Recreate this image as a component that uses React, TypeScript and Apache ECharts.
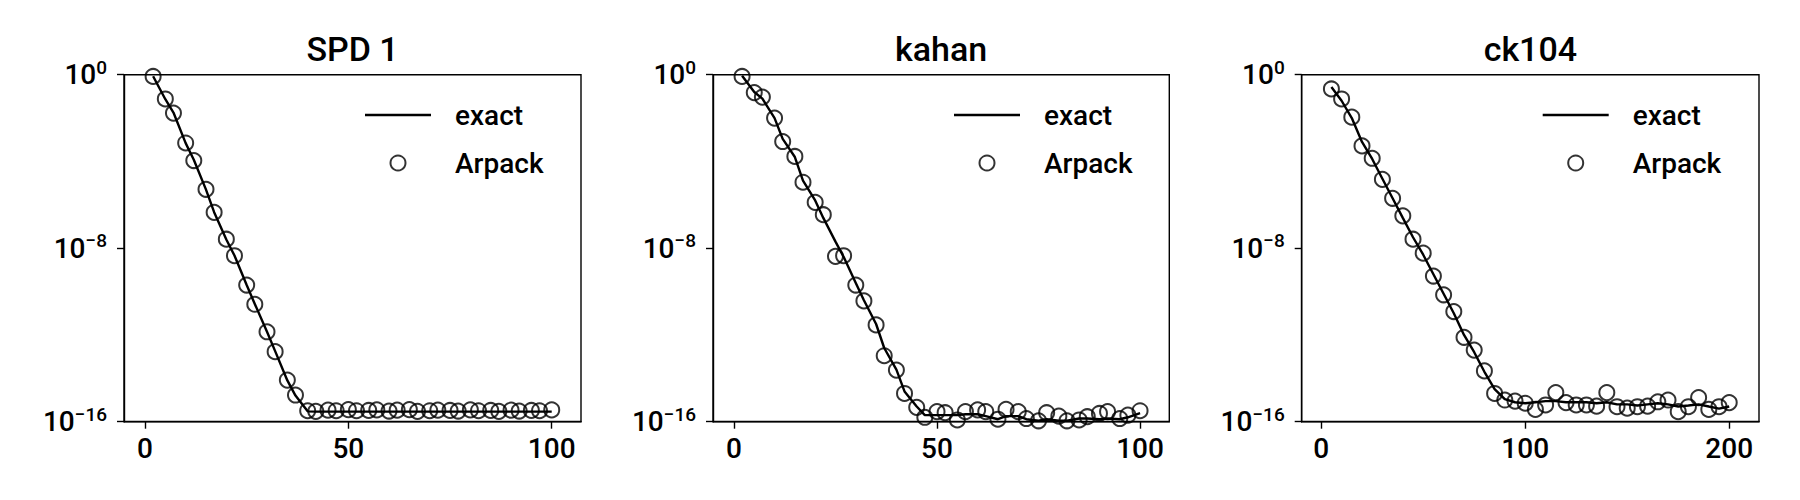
import React, { useEffect, useRef } from "react";
import * as echarts from "echarts";

// ---------- data ----------
const titles = ["SPD 1", "kahan", "ck104"];

const spdX = [2, 5, 7, 10, 12, 15, 17, 20, 22, 25, 27, 30, 32, 35, 37, 40, 42, 45, 47, 50, 52, 55, 57, 60, 62, 65, 67, 70, 72, 75, 77, 80, 82, 85, 87, 90, 92, 95, 97, 100];
const spdArpack = [8.3e-1, 7.6e-2, 1.7e-2, 7.1e-4, 1.1e-4, 5.2e-6, 4.5e-7, 2.6e-8, 4.5e-9, 2.0e-10, 2.6e-11, 1.4e-12, 1.7e-13, 8.3e-15, 1.7e-15, 3.2e-16,
  3.0e-16, 3.4e-16, 3.2e-16, 3.6e-16, 3.2e-16, 3.3e-16, 3.5e-16, 3.1e-16, 3.4e-16, 3.6e-16, 3.0e-16, 3.2e-16, 3.4e-16, 3.3e-16, 3.1e-16, 3.5e-16, 3.2e-16, 3.3e-16, 3.0e-16, 3.4e-16, 3.1e-16, 3.3e-16, 3.2e-16, 3.5e-16];
const spdExact = [8.5e-1, 7.4e-2, 1.8e-2, 7.0e-4, 1.2e-4, 5.0e-6, 4.6e-7, 2.5e-8, 4.6e-9, 2.0e-10, 2.7e-11, 1.4e-12, 1.8e-13, 8.0e-15, 1.6e-15, 3.0e-16,
  2.9e-16, 2.9e-16, 2.9e-16, 2.9e-16, 2.9e-16, 2.9e-16, 2.9e-16, 2.9e-16, 2.9e-16, 2.9e-16, 2.9e-16, 2.9e-16, 2.9e-16, 2.9e-16, 2.9e-16, 2.9e-16, 2.9e-16, 2.9e-16, 2.9e-16, 2.9e-16, 2.9e-16, 2.9e-16, 2.9e-16, 2.9e-16];

const kahanX = [2, 5, 7, 10, 12, 15, 17, 20, 22, 25, 27, 30, 32, 35, 37, 40, 42, 45, 47, 50, 52, 55, 57, 60, 62, 65, 67, 70, 72, 75, 77, 80, 82, 85, 87, 90, 92, 95, 97, 100];
const kahanArpack = [8.3e-1, 1.5e-1, 9.3e-2, 1.0e-2, 8.3e-4, 1.7e-4, 1.1e-5, 1.3e-6, 3.5e-7, 4.2e-9, 4.5e-9, 2.0e-10, 3.7e-11, 2.9e-12, 1.1e-13, 2.4e-14, 2.0e-15, 4.6e-16,
  1.6e-16, 2.9e-16, 2.6e-16, 1.2e-16, 2.9e-16, 3.5e-16, 2.9e-16, 1.3e-16, 3.7e-16, 2.9e-16, 1.4e-16, 1.1e-16, 2.6e-16, 1.8e-16, 1.1e-16, 1.2e-16, 1.7e-16, 2.4e-16, 2.9e-16, 1.4e-16, 2.0e-16, 3.2e-16];
const kahanExact = [8.9e-1, 1.6e-1, 7.9e-2, 1.0e-2, 1.1e-3, 1.6e-4, 1.3e-5, 1.6e-6, 2.5e-7, 2.0e-8, 4.0e-9, 2.5e-10, 4.0e-11, 3.2e-12, 2.5e-13, 2.5e-14, 2.5e-15, 5.0e-16,
  2.0e-16, 2.0e-16, 2.0e-16, 2.0e-16, 2.2e-16, 2.2e-16, 1.8e-16, 1.3e-16, 1.8e-16, 1.8e-16, 1.3e-16, 1.1e-16, 1.3e-16, 1.1e-16, 1.1e-16, 1.4e-16, 1.4e-16, 1.3e-16, 1.4e-16, 1.3e-16, 1.6e-16, 2.5e-16];

const ckX = [5, 10, 15, 20, 25, 30, 35, 40, 45, 50, 55, 60, 65, 70, 75, 80, 85, 90, 95, 100, 105, 110, 115, 120, 125, 130, 135, 140, 145, 150, 155, 160, 165, 170, 175, 180, 185, 190, 195, 200];
const ckArpack = [2.2e-1, 7.6e-2, 1.1e-2, 5.2e-4, 1.4e-4, 1.5e-5, 2.0e-6, 3.1e-7, 2.6e-8, 5.9e-9, 5.2e-10, 7.1e-11, 1.2e-11, 7.8e-13, 2.0e-13, 2.2e-14, 2.0e-15, 1.0e-15, 8.9e-16, 7.1e-16,
  3.7e-16, 5.9e-16, 2.2e-15, 7.6e-16, 5.9e-16, 5.9e-16, 5.2e-16, 2.2e-15, 4.9e-16, 4.2e-16, 4.9e-16, 5.2e-16, 8.3e-16, 1.0e-15, 2.9e-16, 4.9e-16, 1.3e-15, 3.7e-16, 4.9e-16, 7.6e-16];
const ckExact = [2.7e-1, 6.3e-2, 1.0e-2, 7.9e-4, 1.3e-4, 1.6e-5, 2.0e-6, 2.5e-7, 3.2e-8, 5.0e-9, 6.3e-10, 7.9e-11, 1.0e-11, 1.0e-12, 1.6e-13, 2.0e-14, 3.2e-15, 1.1e-15, 7.9e-16, 7.1e-16,
  7.9e-16, 8.9e-16, 8.9e-16, 7.9e-16, 7.9e-16, 7.9e-16, 7.1e-16, 7.9e-16, 6.3e-16, 6.3e-16, 5.6e-16, 6.3e-16, 7.1e-16, 6.3e-16, 5.0e-16, 5.6e-16, 6.3e-16, 5.0e-16, 4.0e-16, 5.0e-16];

const xTicks100 = [0, 50, 100];
const xTicks200 = [0, 100, 200];
const xRanges = [[-5.16, 107.2], [-5.16, 107.2], [-9.56, 214.6]];
const yMin = 1e-16;
const yMax = 1;

// ---------- layout ----------
const FONT = "Roboto";
const WEIGHT = 500;
const grids = [
  { left: 124, top: 74.7, width: 457, height: 347 },
  { left: 713, top: 74.7, width: 456.3, height: 347 },
  { left: 1301.7, top: 74.7, width: 457.3, height: 347 },
];

export default function App() {
  const ref = useRef<HTMLDivElement>(null);
  useEffect(() => {
    if (!ref.current) return;
    const chart = echarts.init(ref.current, null, { renderer: "svg" });
    const panels = [
      { xs: spdX, arp: spdArpack, ex: spdExact, ticks: xTicks100 },
      { xs: kahanX, arp: kahanArpack, ex: kahanExact, ticks: xTicks100 },
      { xs: ckX, arp: ckArpack, ex: ckExact, ticks: xTicks200 },
    ];
    const supLabel = (v: number) => {
      const e = Math.round(Math.log10(v));
      const s = e === 0 ? "0" : "\u2212" + Math.abs(e);
      return `{b|10}{s|${s}}`;
    };
    const option: any = {
      animation: false,
      backgroundColor: "#fff",
      textStyle: { fontFamily: FONT },
      title: titles.map((t, i) => ({
        text: t,
        left: grids[i].left + grids[i].width / 2,
        textAlign: "center",
        top: 32,
        padding: 0,
        textStyle: { fontFamily: FONT, fontSize: 34, fontWeight: WEIGHT, color: "#000" },
      })),
      legend: grids.map((g) => ({
        left: g.left + 241,
        top: 98,
        orient: "vertical",
        padding: 0,
        itemWidth: 66,
        itemHeight: 15,
        itemGap: 14,
        data: [
          { name: "exact", icon: "path://M0 0H66V2.4H0Z" },
          { name: "Arpack" },
        ],
        textStyle: { fontFamily: FONT, fontSize: 28, fontWeight: WEIGHT, color: "#000", lineHeight: 34, padding: [0, 0, 0, 19] },
        selectedMode: false,
      })),
      grid: grids.map((g) => ({
        ...g,
        show: true,
        borderColor: "#000",
        borderWidth: 1.4,
        backgroundColor: "transparent",
        containLabel: false,
      })),
      xAxis: panels.map((p, i) => ({
        type: "value",
        gridIndex: i,
        min: xRanges[i][0],
        max: xRanges[i][1],
        splitLine: { show: false },
        axisLine: { show: true, onZero: false, lineStyle: { color: "#000", width: 1.4 } },
        axisTick: { show: true, length: 7, lineStyle: { color: "#000", width: 1.4 }, customValues: p.ticks },
        axisLabel: { customValues: p.ticks, fontFamily: FONT, fontSize: 28, fontWeight: WEIGHT, color: "#000", margin: 13 },
      })),
      yAxis: panels.map((p, i) => ({
        type: "log",
        logBase: 10,
        gridIndex: i,
        min: yMin,
        max: yMax,
        interval: 8,
        splitLine: { show: false },
        axisLine: { show: true, onZero: false, lineStyle: { color: "#000", width: 1.4 } },
        axisTick: { show: true, length: 7, lineStyle: { color: "#000", width: 1.4 } },
        minorTick: { show: false },
        axisLabel: {
          margin: 17,
          formatter: supLabel,
          rich: {
            b: { fontFamily: FONT, fontSize: 28, fontWeight: WEIGHT, color: "#000", lineHeight: 34, verticalAlign: "middle" },
            s: { fontFamily: FONT, fontSize: 19, fontWeight: WEIGHT, color: "#000", lineHeight: 19, verticalAlign: "top" },
          },
        },
      })),
      series: panels.flatMap((p, i) => [
        {
          name: "exact",
          type: "line",
          xAxisIndex: i,
          yAxisIndex: i,
          data: p.xs.map((x, k) => [x, p.ex[k]]),
          showSymbol: false,
          symbol: "none",
          lineStyle: { color: "#000", width: 2.4 },
          itemStyle: { color: "#000" },
          z: 3,
        },
        {
          name: "Arpack",
          type: "scatter",
          xAxisIndex: i,
          yAxisIndex: i,
          data: p.xs.map((x, k) => [x, p.arp[k]]),
          symbol: "circle",
          symbolSize: 15,
          itemStyle: { color: "rgba(0,0,0,0)", borderColor: "#000", borderWidth: 2 },
          z: 2,
        },
      ]),
    };
    chart.setOption(option);
    return () => chart.dispose();
  }, []);
  return (
    <div
      ref={ref}
      style={{ position: "absolute", left: 0, top: 0, width: 1800, height: 500 }}
    />
  );
}
